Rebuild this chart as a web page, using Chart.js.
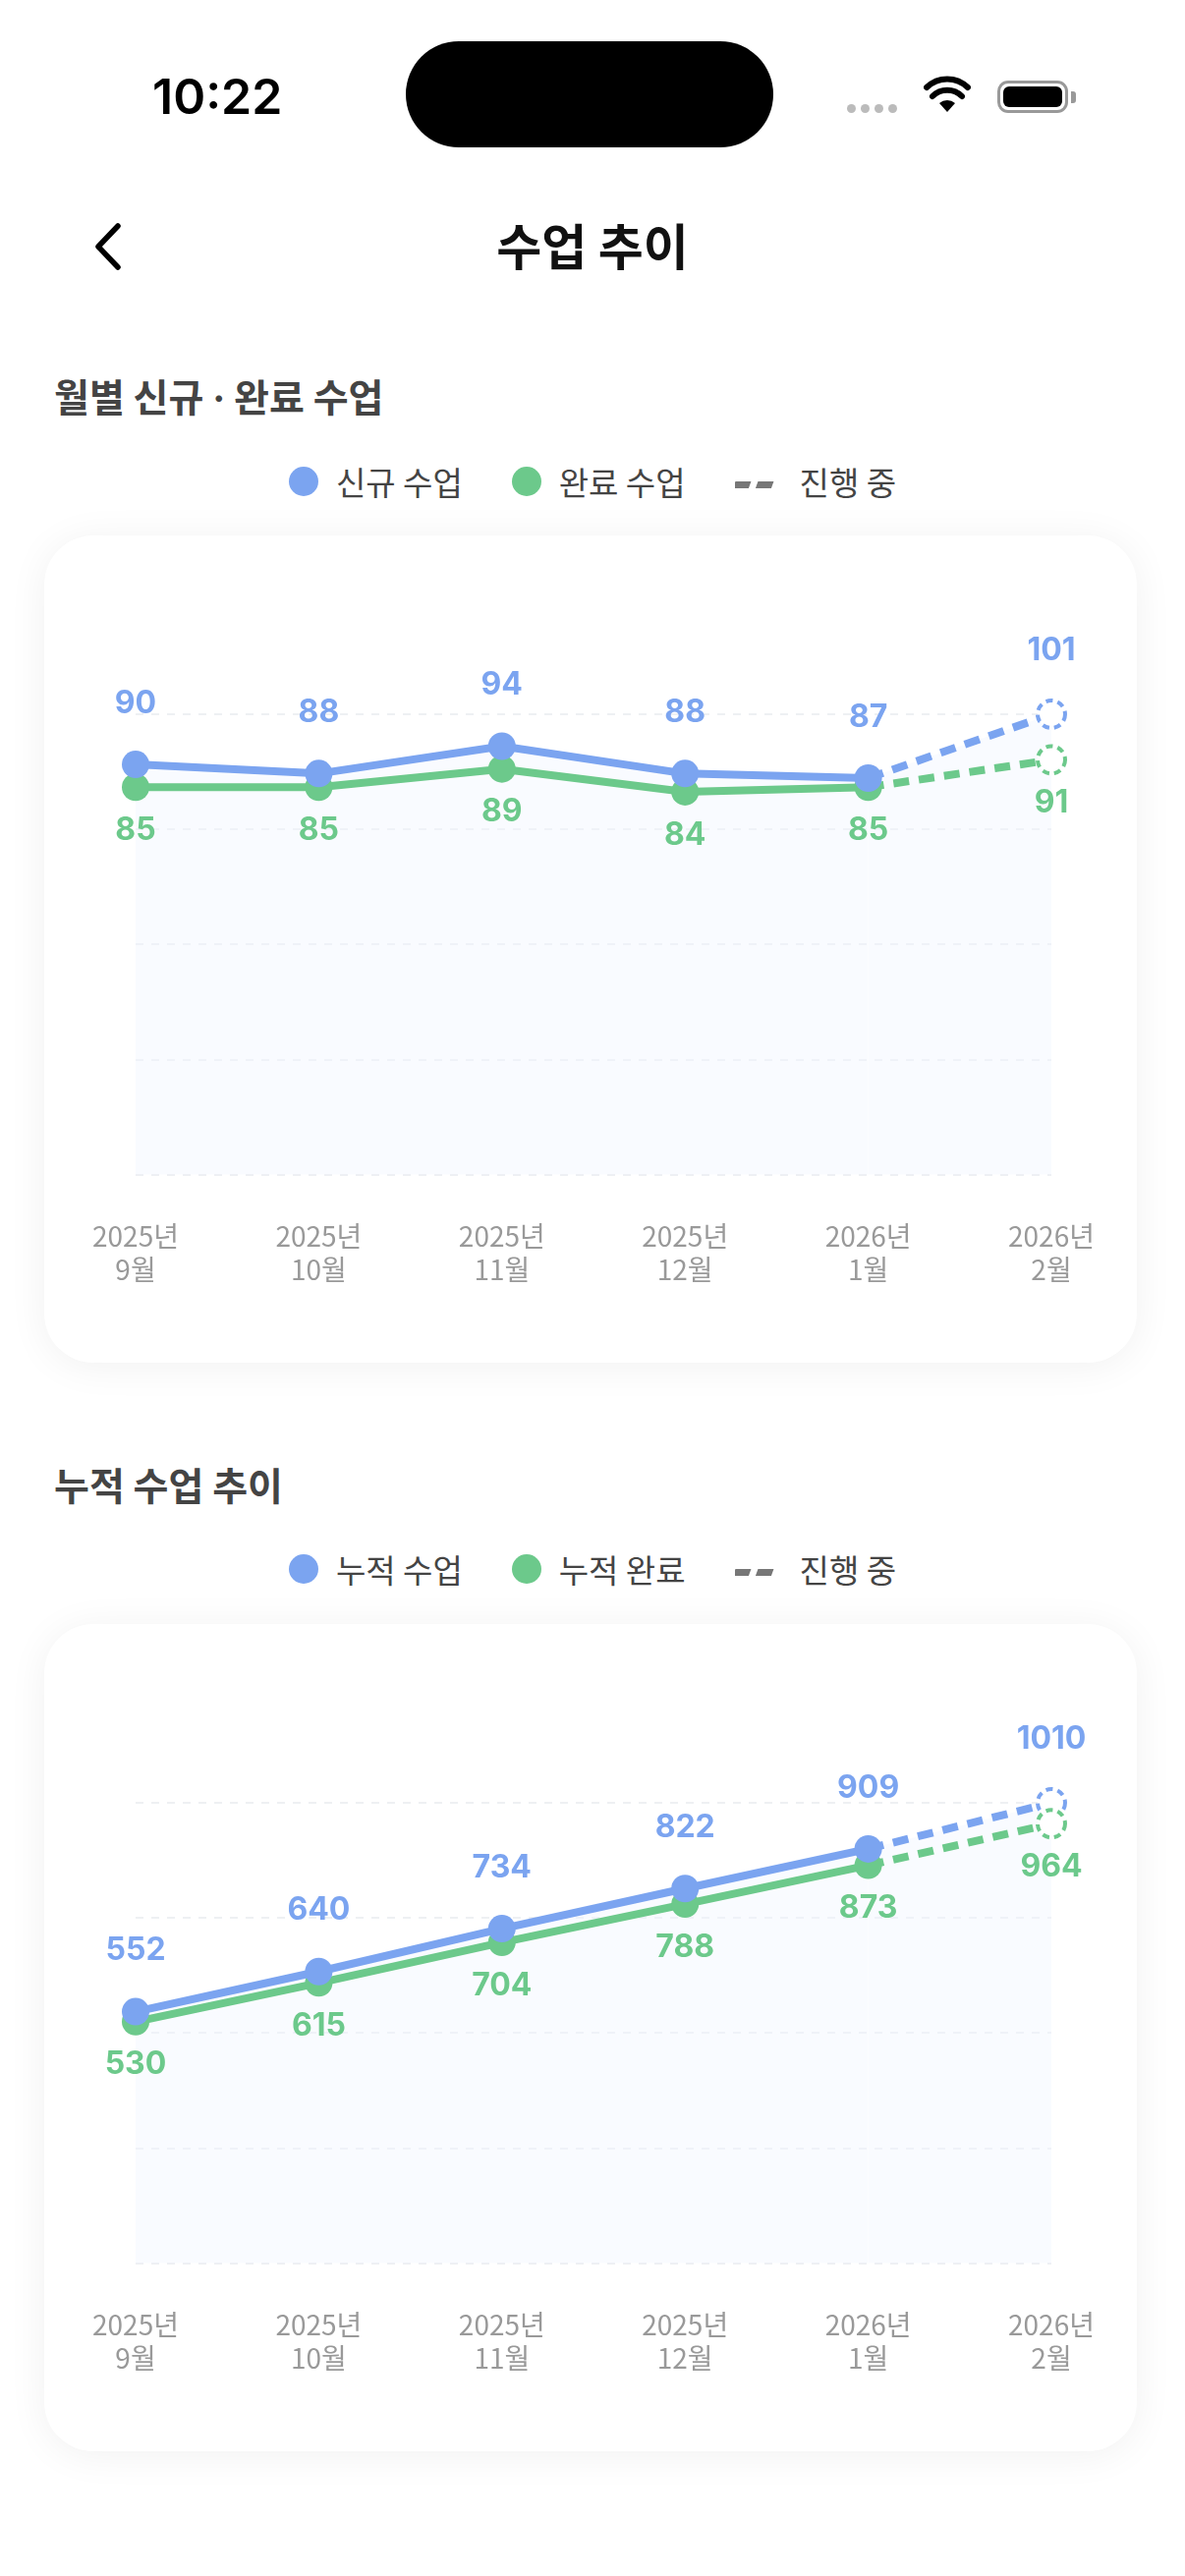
<!DOCTYPE html>
<html><head><meta charset="utf-8">
<script src="https://cdn.jsdelivr.net/npm/chart.js@4"></script>
<style>
body{margin:0;width:1206px;height:2622px;background:#fff;font-family:"Noto Sans CJK KR","Noto Sans",sans-serif;position:relative;overflow:hidden}
.abs{position:absolute}
.time{left:155px;top:68px;font:600 50px Inter,"Noto Sans",sans-serif;color:#000}
.island{left:413px;top:42px;width:374px;height:108px;border-radius:54px;background:#000}
.title{left:0;width:1206px;top:212px;text-align:center;font-weight:700;font-size:50px;color:#111}
.sec{left:55px;font-weight:700;font-size:39px;color:#444}
.legend{left:0;width:1206px;text-align:center;font-size:33px;color:#444;display:flex;justify-content:center;align-items:center;gap:0}
.legend span{display:inline-flex;align-items:center;margin:0 25px}
.dot{width:30px;height:30px;border-radius:50%;display:inline-block;margin-right:18px}
.card{left:45px;width:1112px;height:842px;border-radius:50px;background:#fff;box-shadow:0 4px 40px rgba(0,0,0,0.06)}
</style></head><body>
<div class="abs time">10:22</div>
<div class="abs island"></div>
<div class="abs" style="left:862px;top:106px;display:flex;gap:5px"><i style="width:9px;height:9px;border-radius:50%;background:#bbb;display:block"></i><i style="width:9px;height:9px;border-radius:50%;background:#bbb;display:block"></i><i style="width:9px;height:9px;border-radius:50%;background:#bbb;display:block"></i><i style="width:9px;height:9px;border-radius:50%;background:#bbb;display:block"></i></div>
<svg class="abs" style="left:940px;top:76px" width="48" height="40" viewBox="0 0 48 40"><path d="M24 38 L16 29 A12 12 0 0 1 32 29 Z" fill="#000"/><path d="M9 22 A21 21 0 0 1 39 22" stroke="#000" stroke-width="6" fill="none" stroke-linecap="round"/><path d="M3 13 A30 30 0 0 1 45 13" stroke="#000" stroke-width="6" fill="none" stroke-linecap="round"/></svg>
<div class="abs" style="left:1015px;top:82px;width:72px;height:33px;border:3px solid #999;border-radius:11px;box-sizing:border-box;padding:3px"><div style="width:100%;height:100%;background:#000;border-radius:6px"></div></div>
<div class="abs" style="left:1090px;top:93px;width:5px;height:12px;background:#999;border-radius:0 3px 3px 0"></div>
<svg class="abs" style="left:92px;top:226px" width="36" height="50"><path d="M28 4 L8 25 L28 46" stroke="#000" stroke-width="5.5" fill="none" stroke-linecap="round" stroke-linejoin="round"/></svg>
<div class="abs title">수업 추이</div>

<div class="abs sec" style="top:374px">월별 신규 <span style="font-family:Inter,sans-serif">·</span> 완료 수업</div>
<div class="abs legend" style="top:466px"><span><i class="dot" style="background:#7BA4F0"></i>신규 수업</span><span><i class="dot" style="background:#6CC98B"></i>완료 수업</span><span><svg width="46" height="14" style="margin-right:20px"><path d="M3 11 L19 11 M26 11 L42 11" stroke="#777" stroke-width="8" transform="skewX(-20)"/></svg>진행 중</span></div>
<div class="abs card" style="top:545px"><canvas id="c1" width="1112" height="842"></canvas></div>

<div class="abs sec" style="top:1482px">누적 수업 추이</div>
<div class="abs legend" style="top:1573px"><span><i class="dot" style="background:#7BA4F0"></i>누적 수업</span><span><i class="dot" style="background:#6CC98B"></i>누적 완료</span><span><svg width="46" height="14" style="margin-right:20px"><path d="M3 11 L19 11 M26 11 L42 11" stroke="#777" stroke-width="8" transform="skewX(-20)"/></svg>진행 중</span></div>
<div class="abs card" style="top:1653px"><canvas id="c2" width="1112" height="842"></canvas></div>

<script>
const months = [['2025년','9월'],['2025년','10월'],['2025년','11월'],['2025년','12월'],['2026년','1월'],['2026년','2월']];
const monthlyNew = [90, 88, 94, 88, 87, 101];
const monthlyDone = [85, 85, 89, 84, 85, 91];
const cumTotal = [552, 640, 734, 822, 909, 1010];
const cumDone = [530, 615, 704, 788, 873, 964];
const BLUE = '#7BA4F0', GREEN = '#6CC98B';

const labelPlugin = {
  id: 'lbl',
  afterDatasetsDraw(chart) {
    const ctx = chart.ctx;
    chart.data.datasets.forEach((ds, di) => {
      const meta = chart.getDatasetMeta(di);
      const n = ds.data.length;
      meta.data.forEach((pt, i) => {
        if (i === n - 1) {
          ctx.save();
          ctx.beginPath();
          ctx.arc(pt.x, pt.y, 14, 0, Math.PI * 2);
          ctx.fillStyle = '#fff'; ctx.fill();
          ctx.setLineDash([7, 5]); ctx.lineWidth = 4; ctx.strokeStyle = ds.borderColor; ctx.stroke();
          ctx.restore();
        }
        ctx.save();
        ctx.font = 'bold 32px Inter, "Noto Sans", sans-serif';
        ctx.fillStyle = ds.borderColor;
        ctx.textAlign = 'center';
        ctx.textBaseline = 'middle';
        const off = di === 0 ? -(i === n - 1 ? 65 : 62) : 44;
        ctx.fillText(String(ds.data[i]), pt.x, pt.y + off);
        ctx.restore();
      });
    });
  }
};

function make(id, a, b) {
  const max = Math.max(...a, ...b);
  const dash = ctx => ctx.p1DataIndex === a.length - 1 ? [16, 10] : undefined;
  const rad = a.map((v, i) => i === a.length - 1 ? 0 : 14);
  new Chart(document.getElementById(id), {
    type: 'line',
    data: { labels: months, datasets: [
      { data: a, borderColor: BLUE, backgroundColor: 'rgba(240,244,255,0.4)', fill: 'origin', borderWidth: 8, clip: false,
        pointRadius: rad, pointBackgroundColor: BLUE, pointBorderWidth: 0, segment: { borderDash: dash }, tension: 0 },
      { data: b, borderColor: GREEN, backgroundColor: GREEN, fill: false, borderWidth: 8, clip: false,
        pointRadius: rad, pointBackgroundColor: GREEN, pointBorderWidth: 0, segment: { borderDash: dash }, tension: 0 }
    ]},
    options: {
      responsive: false, animation: false, events: [],
      layout: { padding: { left: 93, right: 87, top: 182, bottom: 40 } },
      plugins: { legend: { display: false }, tooltip: { enabled: false }, filler: { drawTime: 'beforeDatasetsDraw' } },
      scales: {
        x: { offset: false, grid: { display: false }, border: { display: false },
             ticks: { color: '#999', font: { size: 28, family: '"Noto Sans CJK KR", sans-serif' }, padding: 38, maxRotation: 0, autoSkip: false } },
        y: { min: 0, max: max, ticks: { display: false, stepSize: max / 4, count: 5 },
             grid: { color: '#eef0f3', lineWidth: 2, drawTicks: false }, border: { display: false, dash: [8, 8] } }
      }
    },
    plugins: [labelPlugin]
  });
}
make('c1', monthlyNew, monthlyDone);
make('c2', cumTotal, cumDone);
</script>
</body></html>
